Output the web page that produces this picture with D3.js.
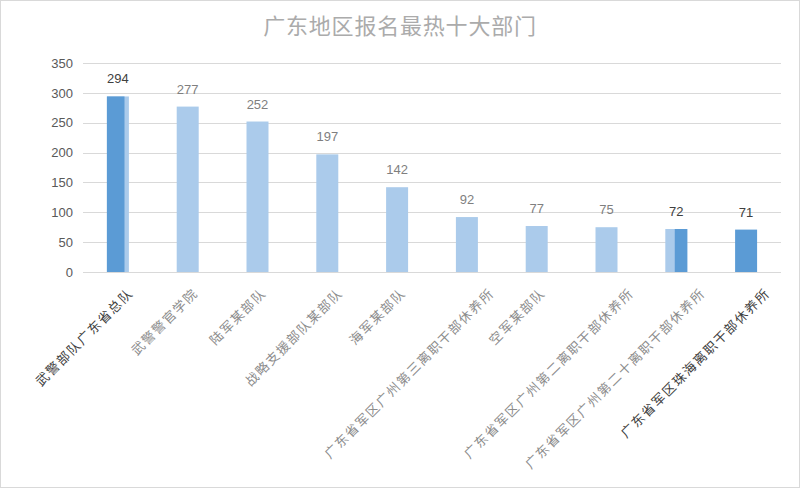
<!DOCTYPE html>
<html><head><meta charset="utf-8">
<script src="https://cdn.jsdelivr.net/npm/d3@7/dist/d3.min.js"></script>
<style>body{margin:0;background:#fff;}svg{display:block;font-family:"Noto Sans CJK SC","Microsoft YaHei",sans-serif;}</style>
</head><body>
<svg id="c" width="800" height="488"></svg>
<script>
const title = "广东地区报名最热十大部门";
const categories = ["武警部队广东省总队","武警警官学院","陆军某部队","战略支援部队某部队","海军某部队","广东省军区广州第三离职干部休养所","空军某部队","广东省军区广州第二离职干部休养所","广东省军区广州第二十离职干部休养所","广东省军区珠海离职干部休养所"];
const values = [294,277,252,197,142,92,77,75,72,71];
const yTicks = [0,50,100,150,200,250,300,350];

const svg = d3.select("#c");
const W = 800, H = 488;
const m = {l:83, r:19, t:63, b:216};
svg.append("rect").attr("x",0.5).attr("y",0.5).attr("width",W-1).attr("height",H-1).attr("fill","#fff").attr("stroke","#d9d9d9");

const x = d3.scaleBand().domain(categories).range([m.l, W-m.r]).paddingInner(0.685).paddingOuter(0.3425);
const y = d3.scaleLinear().domain([0,350]).range([H-m.b, m.t]);

svg.append("text").attr("x",400).attr("y",34).attr("text-anchor","middle")
  .attr("font-size",22).attr("letter-spacing","0.8px").attr("fill","#ababab").text(title);

const g = svg.append("g");
g.selectAll(".grid").data(yTicks).join("line")
  .attr("x1",m.l).attr("x2",W-m.r).attr("y1",d=>Math.round(y(d))+0.5).attr("y2",d=>Math.round(y(d))+0.5)
  .attr("stroke","#d9d9d9").attr("stroke-width",1);

const yAxis = d3.axisLeft(y).tickValues(yTicks).tickSize(0).tickPadding(10);
const ya = svg.append("g").attr("transform",`translate(${m.l},0)`).call(yAxis);
ya.select(".domain").remove();
ya.selectAll("text").attr("font-size",13).attr("fill","#595959").attr("font-family","Liberation Sans, Arial, sans-serif");

const light = "#abcbeb", dark = "#5b9bd5";
const bw = x.bandwidth();
g.selectAll(".bar").data(categories).join("rect")
  .attr("x",d=>x(d)).attr("width",bw)
  .attr("y",(d,i)=>y(values[i])).attr("height",(d,i)=>y(0)-y(values[i]))
  .attr("fill",(d,i)=> i===9 ? dark : light);
// darker overlay segments seen on bars 1 and 9
const overlays = [{i:0, from:0, to:0.8},{i:8, from:0.43, to:1}];
g.selectAll(".ov").data(overlays).join("rect")
  .attr("x",o=>x(categories[o.i])+bw*o.from).attr("width",o=>bw*(o.to-o.from))
  .attr("y",o=>y(values[o.i])).attr("height",o=>y(0)-y(values[o.i])).attr("fill",dark);

g.selectAll(".val").data(categories).join("text")
  .attr("x",d=>x(d)+bw/2).attr("y",(d,i)=>y(values[i])-13)
  .attr("text-anchor","middle").attr("font-size",13).attr("font-family","Liberation Sans, Arial, sans-serif")
  .attr("fill",(d,i)=> (i===0||i>=8) ? "#404040" : "#7f7f7f")
  .text((d,i)=>values[i]);

g.selectAll(".xl").data(categories).join("text")
  .attr("transform",d=>{const cx=x(d)+bw/2+1+1.7*d.length; return `translate(${cx},${y(0)+22}) rotate(-45)`;})
  .attr("text-anchor","end").attr("font-size",13).attr("letter-spacing","1.6px")
  .attr("fill",(d,i)=> (i===0||i===9) ? "#404040" : "#8c8c8c")
  .text(d=>d);
</script>
</body></html>
